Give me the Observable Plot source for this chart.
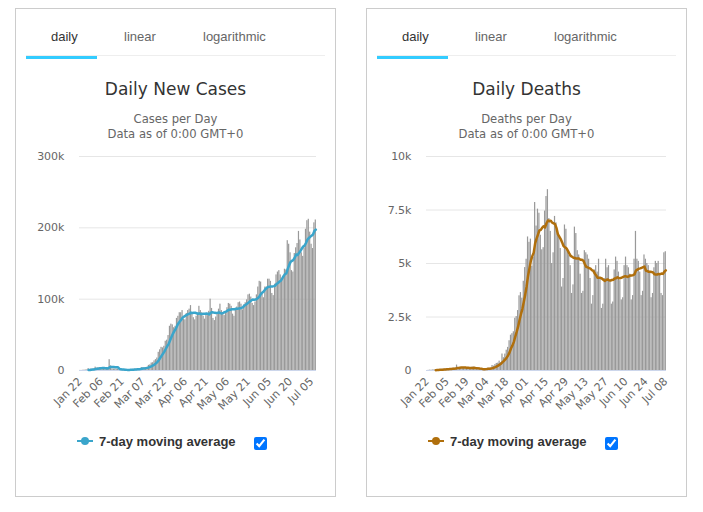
<!DOCTYPE html>
<html>
<head>
<meta charset="utf-8">
<script src="https://cdn.jsdelivr.net/npm/d3@7"></script>
<script src="https://cdn.jsdelivr.net/npm/@observablehq/plot@0.6"></script>
<style>
  html, body { margin: 0; padding: 0; background: #fff; }
  body { position: relative; width: 703px; height: 512px; overflow: hidden; }
  .abs { position: absolute; }
  .panel { position: absolute; top: 8px; width: 321px; height: 489px; border: 1px solid #ccc; box-sizing: border-box; }
  .tab { position: absolute; top: 29px; font: 13px/15px "Liberation Sans", Arial, sans-serif; color: #666; white-space: nowrap; }
  .tab.on { color: #333; }
  .title { position: absolute; top: 79px; width: 321px; text-align: center; font: 17px/20px "DejaVu Sans", sans-serif; color: #333; }
  .sub { position: absolute; top: 112px; width: 321px; text-align: center; font: 11.6px/14.7px "DejaVu Sans", sans-serif; color: #666; }
  .legend-text { position: absolute; top: 434px; font: bold 13px/15px "Liberation Sans", Arial, sans-serif; color: #333; white-space: nowrap; }
  .check { position: absolute; top: 437px; margin: 0; width: 13px; height: 13px; }
</style>
</head>
<body>
<script>
// Day range covered by both series (2020)
const firstDay = "2020-01-22";
const lastDay = "2020-07-08";

// Daily new cases, Jan 22 – Jul 08
const newCases = [
  100, 100, 290, 490, 680, 810, 2650, 590, 2070, 1690,
  2110, 4750, 3090, 4010, 3730, 3150, 3410, 2730, 3010, 2520,
  2030, 15140, 6520, 2140, 2040, 2060, 1870, 1770, 400, 890,
  1030, 980, 590, 620, 1020, 960, 1260, 1420, 1750,
  1850, 1810, 2320, 2290, 2740, 3980, 3900, 3940, 4030, 4710,
  7210, 7910, 10500, 10900, 13500, 15200, 17500, 25500, 29000, 32500,
  31700, 34000, 41000, 42500, 49000, 62000, 65000, 64000, 60000, 62000, 73000,
  76000, 81000, 81000, 84000, 72000, 71000, 80000, 84000, 86000, 91000,
  80000, 74000, 71000, 76000, 79000, 90000, 84000, 81000, 76000, 72000,
  77000, 77000, 83000, 100000, 87000, 73000, 70000, 75000, 79000, 86000,
  93000, 84000, 79000, 77000, 80000, 88000, 94000, 93000, 90000, 79000,
  76000, 86000, 89000, 95000, 96000, 93000, 85000, 92000, 95000, 99000,
  106000, 107000, 103000, 94000, 91000, 96000, 106000, 117000, 125000, 124000, 107000,
  102000, 117000, 117000, 128000, 128000, 125000, 108000, 105000, 121000, 134000,
  138000, 140000, 134000, 129000, 129000, 142000, 141000, 182000, 177000, 165000,
  140000, 138000, 164000, 172000, 178000, 195000, 183000, 165000, 160000, 172000,
  198000, 210000, 212000, 194000, 177000, 171000, 207000, 211000
];

// Daily deaths, Jan 22 – Jul 08
const newDeaths = [
  0, 8, 16, 15, 24, 26, 26, 38, 43, 46,
  45, 57, 64, 66, 73, 73, 86, 89, 97, 108,
  97, 254, 121, 143, 142, 106, 98, 139, 115, 125,
  112, 99, 160, 152, 66, 64, 45, 60, 67,
  63, 70, 80, 95, 102, 104, 103, 234, 205, 277,
  330, 344, 438, 369, 770, 596, 768, 950, 1080, 1390,
  1650, 1720, 1810, 2440, 2520, 2800, 3490, 3640, 3380, 4170, 4810,
  5200, 6240, 5990, 6140, 4870, 5300, 7850, 6750, 7540, 7350,
  6320, 5640, 5740, 7450, 8130, 8450, 7100, 6500, 5000, 5500,
  7200, 6900, 6400, 6300, 5700, 3900, 4300, 6800, 6600, 5600,
  5400, 4900, 3600, 4000, 6700, 6400, 5600, 5400, 4500, 3600,
  3700, 5600, 5500, 5400, 5200, 4300, 3100, 3500, 4700, 4900,
  4600, 5200, 4300, 2900, 3100, 4300, 5200, 4800, 4900, 4200, 3100,
  3200, 4700, 5300, 5100, 4600, 4200, 3300, 3400, 4900, 5300,
  4900, 4800, 4500, 3300, 3500, 5200, 6500, 5200, 5100, 4600,
  3500, 3700, 5400, 5200, 5000, 4900, 4600, 3400, 3600, 4800,
  5100, 5000, 5100, 4500, 3600, 3500, 5500, 5550
];

// Axis ticks
const casesYTicks = [0, 100000, 200000, 300000];
const deathsYTicks = [0, 2500, 5000, 7500, 10000];
const casesXTicks = ["Jan 22", "Feb 06", "Feb 21", "Mar 07", "Mar 22", "Apr 06", "Apr 21", "May 06", "May 21", "Jun 05", "Jun 20", "Jul 05"];
const deathsXTicks = ["Jan 22", "Feb 05", "Feb 19", "Mar 04", "Mar 18", "Apr 01", "Apr 15", "Apr 29", "May 13", "May 27", "Jun 10", "Jun 24", "Jul 08"];

// Panel texts and colours
const tabs = ["daily", "linear", "logarithmic"];
const legendLabel = "7-day moving average";
const panels = [
  {left: 15, title: "Daily New Cases", subtitle: ["Cases per Day", "Data as of 0:00 GMT+0"],
   values: newCases, color: "#3aa5cb", yTicks: casesYTicks, xTicks: casesXTicks, marginLeft: 64, marginRight: 20},
  {left: 366, title: "Daily Deaths", subtitle: ["Deaths per Day", "Data as of 0:00 GMT+0"],
   values: newDeaths, color: "#b06f0c", yTicks: deathsYTicks, xTicks: deathsXTicks, marginLeft: 60, marginRight: 21}
];

const dates = d3.utcDay.range(new Date(firstDay), d3.utcDay.offset(new Date(lastDay), 1));
const parseTick = d3.utcParse("%b %d %Y");

function el(tag, cls, style, text) {
  const e = document.createElement(tag);
  if (cls) e.className = cls;
  Object.assign(e.style, style || {});
  if (text != null) e.textContent = text;
  document.body.appendChild(e);
  return e;
}

function chart(p) {
  const rows = dates.map((date, i) => ({date, value: p.values[i]}));
  const tickDates = p.xTicks.map(s => d3.utcHour.offset(parseTick(s + " 2020"), 12));
  return Plot.plot({
    width: 321,
    height: 290,
    marginLeft: p.marginLeft,
    marginRight: p.marginRight,
    marginTop: 16,
    marginBottom: 60,
    style: {fontFamily: "'DejaVu Sans', sans-serif", fontSize: "11px", color: "#666", background: "transparent", overflow: "visible"},
    x: {
      type: "utc",
      domain: [dates[0], d3.utcDay.offset(dates[dates.length - 1], 1)],
      ticks: tickDates,
      tickFormat: d3.utcFormat("%b %d"),
      tickRotate: -45,
      tickSize: 0,
      tickPadding: 9,
      label: null
    },
    y: {
      domain: [0, d3.max(p.yTicks)],
      ticks: p.yTicks,
      tickFormat: d3.format("~s"),
      tickSize: 0,
      tickPadding: 15,
      label: null
    },
    marks: [
      Plot.ruleY(p.yTicks.slice(1), {stroke: "#e6e6e6"}),
      Plot.rectY(rows, {x1: "date", x2: d => d3.utcDay.offset(d.date, 1), y: "value", fill: "#999", insetLeft: 0.1, insetRight: 0.1}),
      Plot.ruleY([0], {stroke: "#ccd6eb"}),
      Plot.line(rows, Plot.windowY(
        {k: 7, anchor: "end", reduce: "mean", strict: true},
        {x: d => d3.utcHour.offset(d.date, 12), y: "value", stroke: p.color, strokeWidth: 2.5}
      ))
    ]
  });
}

const tabOffsets = [36, 109, 188];

for (const p of panels) {
  const L = p.left;
  el("div", "panel", {left: L + "px"});
  tabs.forEach((t, i) => el("div", "tab" + (i === 0 ? " on" : ""), {left: (L + tabOffsets[i]) + "px"}, t));
  el("div", "abs", {left: (L + 11) + "px", top: "55px", width: "299px", height: "1px", background: "#eee"});
  el("div", "abs", {left: (L + 11) + "px", top: "56px", width: "71px", height: "3px", background: "#33ccff"});
  el("div", "title", {left: L + "px"}, p.title);
  const sub = el("div", "sub", {left: L + "px"});
  p.subtitle.forEach(s => { const line = document.createElement("div"); line.textContent = s; sub.appendChild(line); });

  const holder = el("div", "abs", {left: L + "px", top: "140px"});
  holder.appendChild(chart(p));

  // legend: line symbol with marker, bold label, checkbox
  const sym = document.createElementNS("http://www.w3.org/2000/svg", "svg");
  sym.setAttribute("width", 18); sym.setAttribute("height", 10);
  sym.style.position = "absolute";
  sym.style.left = (L + 61) + "px";
  sym.style.top = "436px";
  sym.innerHTML = `<line x1="1" x2="17" y1="5" y2="5" stroke="${p.color}" stroke-width="2"/><circle cx="9" cy="5" r="4" fill="${p.color}"/>`;
  document.body.appendChild(sym);
  el("div", "legend-text", {left: (L + 84) + "px"}, legendLabel);
  const cb = el("input", "check", {left: (L + 239) + "px"});
  cb.type = "checkbox";
  cb.checked = true;
}
</script>
</body>
</html>
